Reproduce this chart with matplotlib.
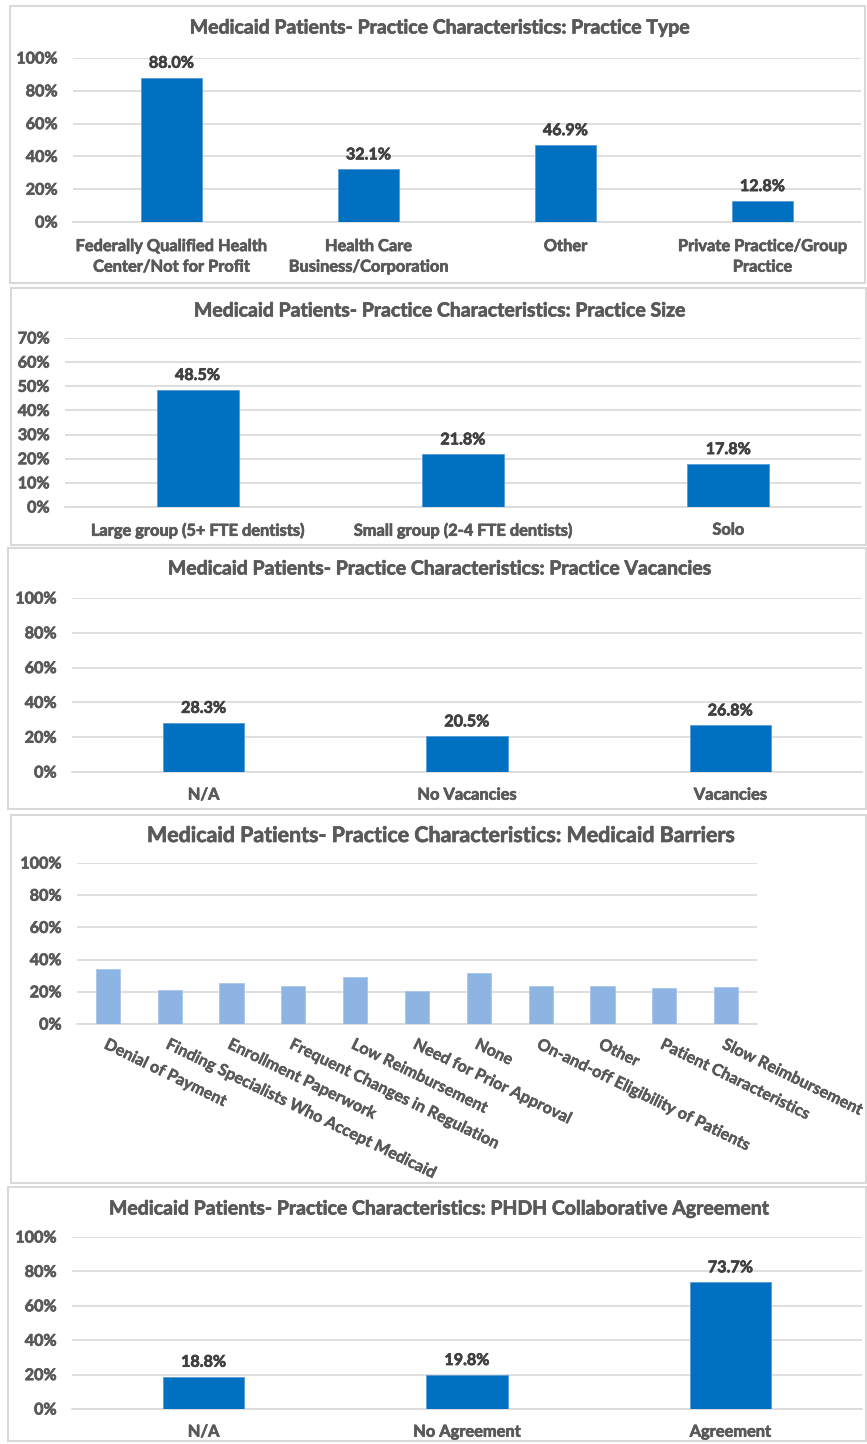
import matplotlib
matplotlib.use("Agg")
import matplotlib.pyplot as plt
import matplotlib.patheffects as pe
import numpy as np
from matplotlib.patches import Rectangle
from matplotlib.ticker import PercentFormatter

plt.rcParams['font.family'] = ['Lato', 'DejaVu Sans']

# ---- data ----
type_cats = ["Federally Qualified Health\nCenter/Not for Profit", "Health Care\nBusiness/Corporation",
             "Other", "Private Practice/Group\nPractice"]
type_vals = [88.0, 32.1, 46.9, 12.8]

size_cats = ["Large group (5+ FTE dentists)", "Small group (2-4 FTE dentists)", "Solo"]
size_vals = [48.5, 21.8, 17.8]

vac_cats = ["N/A", "No Vacancies", "Vacancies"]
vac_vals = [28.3, 20.5, 26.8]

bar_cats = ["Denial of Payment", "Finding Specialists Who Accept Medicaid", "Enrollment Paperwork",
            "Frequent Changes in Regulation", "Low Reimbursement", "Need for Prior Approval", "None",
            "On-and-off Eligibility of Patients", "Other", "Patient Characteristics", "Slow Reimbursement"]
bar_vals = [34.0, 21.2, 25.2, 23.5, 29.1, 20.2, 31.5, 23.5, 23.7, 22.1, 22.7]

agr_cats = ["N/A", "No Agreement", "Agreement"]
agr_vals = [18.8, 19.8, 73.7]

titles = ["Medicaid Patients- Practice Characteristics: Practice Type",
          "Medicaid Patients- Practice Characteristics: Practice Size",
          "Medicaid Patients- Practice Characteristics: Practice Vacancies",
          "Medicaid Patients- Practice Characteristics: Medicaid Barriers",
          "Medicaid Patients- Practice Characteristics: PHDH Collaborative Agreement"]

W, H = 867, 1444
fig = plt.figure(figsize=(W / 100, H / 100), dpi=100)

TXT = '#595959'
LAB = '#404040'
GRID = '#D9D9D9'
DARK = '#0070C0'
LIGHT = '#8EB4E3'


def thick(color, w=0.5):
    return [pe.withStroke(linewidth=w, foreground=color)]


def fx(px):
    return px / W


def fy(py):
    return 1 - py / H


def box(x0, y0, x1, y1):
    fig.add_artist(Rectangle((fx(x0), fy(y1)), fx(x1) - fx(x0), fy(y0) - fy(y1),
                             transform=fig.transFigure, fill=False, edgecolor=GRID, lw=1.5,
                             zorder=0))


def panel(rect, cats, vals, ymax, step, color, width, title, title_y, labels=True,
          rot=0, tick_fs=11.8, title_fs=14, xpad=12):
    x0, top, x1, bot = rect
    ax = fig.add_axes([fx(x0), fy(bot), fx(x1) - fx(x0), fy(top) - fy(bot)])
    ax.patch.set_alpha(0)
    x = np.arange(len(cats))
    vals_f = np.array(vals) / 100.0
    bars = ax.bar(x, vals_f, width=width, color=color,
                  edgecolor='#5B9BD5' if color == DARK else '#A9C6EA', lw=0.6, zorder=3)
    ax.set_xlim(-0.5, len(cats) - 0.5)
    ax.set_ylim(0, ymax)
    ax.set_yticks(np.arange(0, ymax + 1e-9, step))
    ax.yaxis.set_major_formatter(PercentFormatter(1.0, decimals=0))
    ax.grid(axis='y', color=GRID, lw=1.2, zorder=0)
    for s in ['top', 'right', 'left']:
        ax.spines[s].set_visible(False)
    ax.spines['bottom'].set_color(GRID)
    ax.spines['bottom'].set_linewidth(1.2)
    ax.tick_params(axis='both', length=0, colors=TXT)
    ax.tick_params(axis='y', pad=11, labelsize=11.6)
    for t in ax.get_yticklabels():
        t.set_fontweight('bold')
        t.set_color(TXT)
        t.set_path_effects(thick(TXT))
    ax.set_xticks(x)
    if rot:
        ax.set_xticklabels(cats, rotation=rot, ha='left', va='top', rotation_mode='anchor',
                           fontsize=tick_fs, fontweight='bold', color=TXT)
        ax.tick_params(axis='x', pad=10)
        for t in ax.get_xticklabels():
            t.set_clip_on(False)
            t.set_path_effects(thick(TXT, 0.3))
    else:
        ax.set_xticklabels(cats, fontsize=tick_fs, fontweight='bold', color=TXT, linespacing=1.6)
        ax.tick_params(axis='x', pad=xpad)
        for t in ax.get_xticklabels():
            t.set_path_effects(thick(TXT))
    if labels:
        for b, v in zip(bars, vals):
            ax.annotate(f"{v:.1f}%", (b.get_x() + b.get_width() / 2, b.get_height()),
                        xytext=(0, 5), textcoords='offset points', ha='center', va='bottom',
                        fontsize=11.6, fontweight='bold', color=LAB, path_effects=thick(LAB))
    fig.text(fx(441), fy(title_y), title, ha='center', va='center', fontsize=title_fs,
             fontweight='bold', color=TXT, path_effects=thick(TXT))
    return ax


box(10, 6, 865, 283)
panel((73, 58, 861, 222), type_cats, type_vals, 1.0, 0.2, DARK, 0.31, titles[0], 28, xpad=13)

box(11, 288, 866, 545)
panel((65, 338, 861, 507), size_cats, size_vals, 0.7, 0.1, DARK, 0.31, titles[1], 311)

box(8, 548, 866, 809)
panel((72, 598, 862, 772), vac_cats, vac_vals, 1.0, 0.2, DARK, 0.31, titles[2], 569)

box(11, 815, 866, 1183)
panel((77, 863, 757, 1024), bar_cats, bar_vals, 1.0, 0.2, LIGHT, 0.39, titles[3], 836,
      labels=False, rot=-26, tick_fs=11.7, title_fs=15.4)

box(8, 1187, 866, 1441)
panel((72, 1237, 862, 1409), agr_cats, agr_vals, 1.0, 0.2, DARK, 0.31, titles[4], 1209)

fig.savefig("out.png", dpi=100, facecolor='white')
